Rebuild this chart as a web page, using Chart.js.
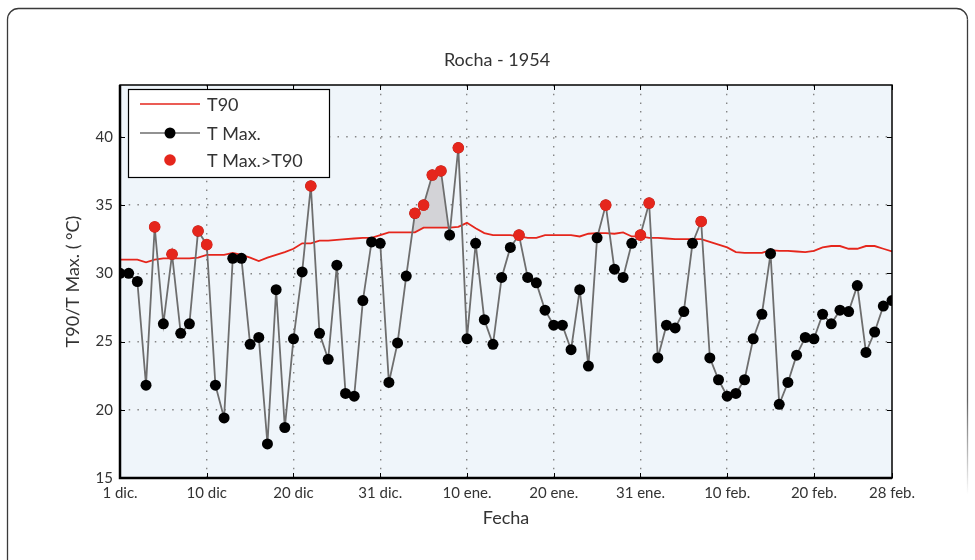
<!DOCTYPE html>
<html>
<head>
<meta charset="utf-8">
<script src="https://cdn.jsdelivr.net/npm/chart.js@4.4.1/dist/chart.umd.min.js"></script>
<style>
  html, body { margin: 0; padding: 0; background: #ffffff; }
  #wrap { width: 975px; height: 560px; position: relative; }
</style>
</head>
<body>
<div id="wrap"><canvas id="c" width="975" height="560"></canvas></div>
<script>
// ---- data (day index 0 = 1 dic. ... 89 = 28 feb.) ----
const tMax = [
  30.0, 30.0, 29.4, 21.8, 33.4, 26.3, 31.4, 25.6, 26.3, 33.1,
  32.1, 21.8, 19.4, 31.1, 31.1, 24.8, 25.3, 17.5, 28.8, 18.7,
  25.2, 30.1, 36.4, 25.6, 23.7, 30.6, 21.2, 21.0, 28.0, 32.3,
  32.2, 22.0, 24.9, 29.8, 34.4, 35.0, 37.2, 37.5, 32.8, 39.2,
  25.2, 32.2, 26.6, 24.8, 29.7, 31.9, 32.8, 29.7, 29.3, 27.3,
  26.2, 26.2, 24.4, 28.8, 23.2, 32.6, 35.0, 30.3, 29.7, 32.2,
  32.8, 35.15, 23.8, 26.2, 26.0, 27.2, 32.2, 33.8, 23.8, 22.2,
  21.0, 21.2, 22.2, 25.2, 27.0, 31.45, 20.4, 22.0, 24.0, 25.3,
  25.2, 27.0, 26.3, 27.3, 27.2, 29.1, 24.2, 25.7, 27.6, 28.0
];
const t90 = [
  31.0, 31.0, 31.0, 30.8, 31.0, 31.1, 31.1, 31.1, 31.1, 31.15,
  31.35, 31.35, 31.35, 31.5, 31.35, 31.15, 30.9, 31.15, 31.35, 31.55,
  31.8, 32.2, 32.2, 32.4, 32.4, 32.45, 32.5, 32.55, 32.6, 32.6,
  32.8, 33.0, 33.0, 33.0, 33.0, 33.35, 33.35, 33.35, 33.35, 33.4,
  33.7, 33.3, 32.95, 32.8, 32.8, 32.8, 32.7, 32.6, 32.6, 32.8,
  32.8, 32.8, 32.8, 32.7, 32.9, 32.95, 32.95, 32.9, 33.0, 32.7,
  32.7, 32.6, 32.6, 32.55, 32.5, 32.5, 32.5, 32.5, 32.3, 32.1,
  31.9, 31.55, 31.5, 31.5, 31.5, 31.7, 31.65, 31.65, 31.6, 31.55,
  31.65, 31.9, 32.0, 32.0, 31.8, 31.8, 32.0, 32.0, 31.8, 31.6
];
const xTickPos = [0, 10, 20, 30, 40, 50, 60, 70, 80, 89];
const xTickLabels = ['1 dic.', '10 dic', '20 dic', '31 dic.', '10 ene.', '20 ene.', '31 ene.', '10 feb.', '20 feb.', '28 feb.'];
const yTicks = [15, 20, 25, 30, 35, 40];
const heatWave = [33, 38];   // first/last day of the shaded run
const seriesNames = ['T90', 'T Max.', 'T Max.>T90'];
const titleText = 'Rocha - 1954';
const xTitle = 'Fecha';
const yTitle = 'T90/T Max. ( °C)';

// derived series
const days = tMax.map((_, i) => i);
const above = tMax.map((v, i) => (v > t90[i] ? v : null));
const waveSeg = tMax.map((v, i) => (i >= heatWave[0] && i <= heatWave[1] ? v : null));
const pts = arr => arr.map((v, i) => ({ x: days[i], y: v }));

const FONT = 'Lato, "Open Sans", sans-serif';
const TXT = '#333333';
const RED = '#e5261c';

const framePlugin = {
  id: 'frame',
  beforeDraw(chart) {
    const { ctx, chartArea: a } = chart;
    ctx.save();
    // outer rounded border
    ctx.strokeStyle = '#3a3a3a';
    ctx.lineWidth = 1.3;
    const r = 11, L = 7.5, T = 8.5, R = 967.5, B = 600;
    ctx.beginPath();
    ctx.moveTo(L, B);
    ctx.lineTo(L, T + r);
    ctx.arcTo(L, T, L + r, T, r);
    ctx.lineTo(R - r, T);
    ctx.arcTo(R, T, R, T + r, r);
    ctx.stroke();
    const g = ctx.createLinearGradient(0, T + r, 0, 495);
    g.addColorStop(0, 'rgba(58,58,58,1)');
    g.addColorStop(0.8, 'rgba(58,58,58,0.8)');
    g.addColorStop(1, 'rgba(58,58,58,0)');
    ctx.strokeStyle = g;
    ctx.beginPath();
    ctx.moveTo(R, T + r);
    ctx.lineTo(R, 495);
    ctx.stroke();
    // plot background
    ctx.fillStyle = '#eff5fa';
    ctx.fillRect(a.left, a.top, a.right - a.left, a.bottom - a.top);
    ctx.restore();
  },
  afterDraw(chart) {
    const { ctx, chartArea: a, scales } = chart;
    ctx.save();
    // inside tick marks
    ctx.strokeStyle = '#000';
    ctx.lineWidth = 1;
    ctx.beginPath();
    xTickPos.forEach(v => {
      const x = Math.round(scales.x.getPixelForValue(v)) + 0.5;
      ctx.moveTo(x, a.bottom); ctx.lineTo(x, a.bottom - 5);
      ctx.moveTo(x, a.top); ctx.lineTo(x, a.top + 5);
    });
    yTicks.forEach(v => {
      const y = Math.round(scales.y.getPixelForValue(v)) + 0.5;
      ctx.moveTo(a.left, y); ctx.lineTo(a.left + 5, y);
      ctx.moveTo(a.right, y); ctx.lineTo(a.right - 5, y);
    });
    ctx.stroke();
    // plot frame
    ctx.lineWidth = 1.5;
    ctx.strokeRect(a.left, a.top, a.right - a.left, a.bottom - a.top);
    ctx.lineWidth = 2.5;
    ctx.beginPath();
    ctx.moveTo(a.left, a.top); ctx.lineTo(a.left, a.bottom); ctx.lineTo(a.right, a.bottom);
    ctx.stroke();

    // legend box
    const lx = a.left + 8, ly = a.top + 4, lw = 201, lh = 88;
    ctx.fillStyle = '#ffffff';
    ctx.fillRect(lx, ly, lw, lh);
    ctx.strokeStyle = '#000';
    ctx.lineWidth = 1.2;
    ctx.strokeRect(lx + 0.5, ly + 0.5, lw, lh);
    const rows = [ly + 15, ly + 44, ly + 71];
    const sx0 = lx + 12, sx1 = lx + 72, sxm = lx + 42, tx = lx + 79;
    // T90
    ctx.strokeStyle = RED; ctx.lineWidth = 1.5;
    ctx.beginPath(); ctx.moveTo(sx0, rows[0]); ctx.lineTo(sx1, rows[0]); ctx.stroke();
    // T Max
    ctx.strokeStyle = '#6e6e6e'; ctx.lineWidth = 1.5;
    ctx.beginPath(); ctx.moveTo(sx0, rows[1]); ctx.lineTo(sx1, rows[1]); ctx.stroke();
    ctx.fillStyle = '#000';
    ctx.beginPath(); ctx.arc(sxm, rows[1], 5.5, 0, Math.PI * 2); ctx.fill();
    // T Max > T90
    ctx.fillStyle = RED;
    ctx.beginPath(); ctx.arc(sxm, rows[2], 5.8, 0, Math.PI * 2); ctx.fill();
    ctx.fillStyle = TXT;
    ctx.font = '18px ' + FONT;
    ctx.textBaseline = 'middle';
    ctx.textAlign = 'left';
    seriesNames.forEach((s, k) => ctx.fillText(s, tx, rows[k] + 1));
    ctx.restore();
  }
};

const gridColor = (hide) => (c) => (c.tick && hide.includes(c.tick.value)) ? 'rgba(0,0,0,0)' : '#858585';

new Chart(document.getElementById('c'), {
  type: 'line',
  data: {
    datasets: [
      {
        label: seriesNames[2],
        data: pts(above),
        showLine: false,
        pointRadius: 5.8,
        pointBackgroundColor: RED,
        pointBorderColor: RED,
        pointBorderWidth: 0,
        spanGaps: false
      },
      {
        label: seriesNames[1],
        data: pts(tMax),
        borderColor: '#6e6e6e',
        borderWidth: 1.8,
        pointRadius: 5.5,
        pointBackgroundColor: '#000',
        pointBorderColor: '#000',
        pointBorderWidth: 0,
        tension: 0
      },
      {
        label: seriesNames[0],
        data: pts(t90),
        borderColor: RED,
        borderWidth: 1.8,
        pointRadius: 0,
        tension: 0
      },
      {
        label: 'wave',
        data: pts(waveSeg),
        borderWidth: 0,
        borderColor: 'rgba(0,0,0,0)',
        pointRadius: 0,
        spanGaps: false,
        fill: { target: 2, above: '#d3d3d7', below: 'rgba(0,0,0,0)' }
      }
    ]
  },
  options: {
    responsive: false,
    animation: false,
    events: [],
    layout: { padding: { left: 19, right: 0, top: 0, bottom: 0 } },
    plugins: {
      legend: { display: false },
      tooltip: { enabled: false },
      title: {
        display: true,
        text: titleText,
        color: TXT,
        font: { family: FONT, size: 18, weight: 'normal' },
        padding: { top: 49, bottom: 14.4 }
      }
    },
    scales: {
      x: {
        type: 'linear',
        min: 0,
        max: 89,
        afterBuildTicks: s => { s.ticks = xTickPos.map(v => ({ value: v })); },
        afterFit: s => { s.height = 82; },
        ticks: {
          autoSkip: false,
          maxRotation: 0,
          padding: 6,
          color: TXT,
          font: { family: FONT, size: 15 },
          callback: (v, i) => xTickLabels[i]
        },
        grid: { color: gridColor([0, 89]), lineWidth: 1.4, drawTicks: false },
        border: { display: false, dash: [1.5, 7.2] },
        title: {
          display: true, text: xTitle, color: TXT,
          font: { family: FONT, size: 18 },
          padding: { top: 0, bottom: 31 }
        }
      },
      y: {
        type: 'linear',
        min: 15,
        max: 43.8,
        afterBuildTicks: s => { s.ticks = yTicks.map(v => ({ value: v })); },
        afterFit: s => { s.width = 101; },
        ticks: {
          padding: 7,
          color: TXT,
          font: { family: FONT, size: 15 }
        },
        grid: { color: gridColor([15]), lineWidth: 1.4, drawTicks: false },
        border: { display: false, dash: [1.5, 7.2] },
        title: {
          display: true, text: yTitle, color: TXT,
          font: { family: FONT, size: 18 },
          padding: { top: 43, bottom: 0 }
        }
      },
      yR: {
        type: 'linear',
        position: 'right',
        display: true,
        min: 15,
        max: 43.8,
        afterFit: s => { s.width = 83; },
        ticks: { display: false },
        grid: { display: false, drawTicks: false },
        border: { display: false }
      }
    }
  },
  plugins: [framePlugin]
});
</script>
</body>
</html>
